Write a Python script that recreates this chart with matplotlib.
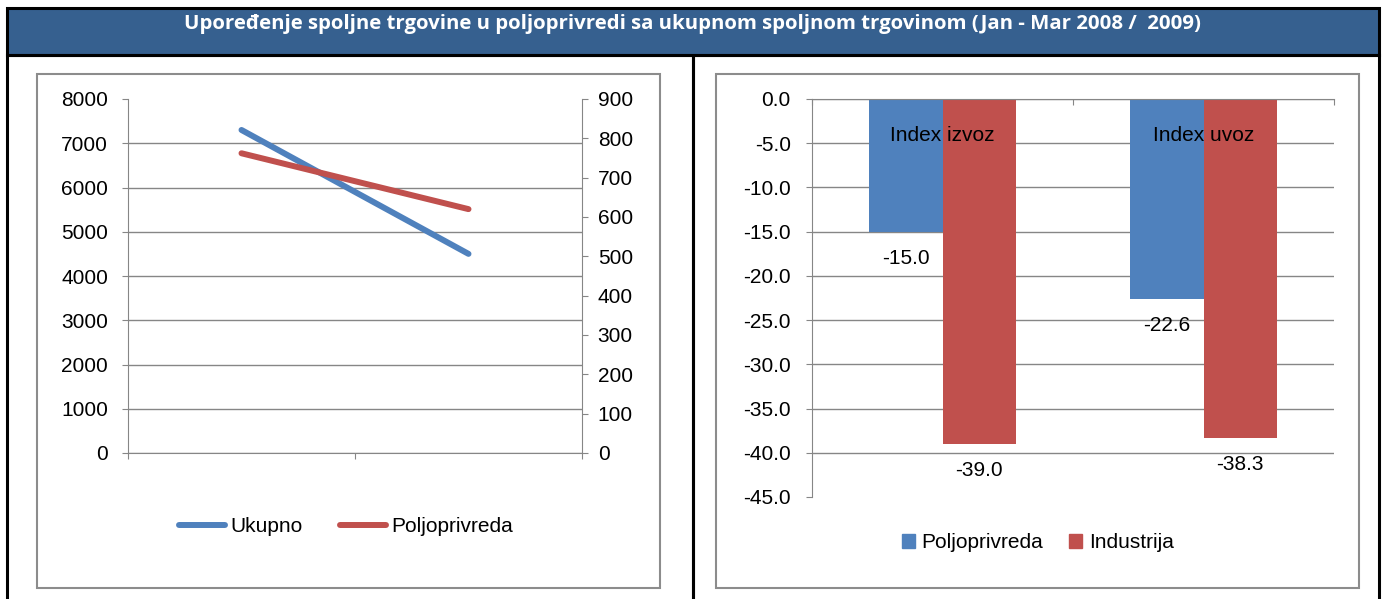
import matplotlib
matplotlib.use('Agg')
import numpy as np
import matplotlib.pyplot as plt
from matplotlib.patches import Rectangle, Patch

W, H = 1382, 599

title = "Upoređenje spoljne trgovine u poljoprivredi sa ukupnom spoljnom trgovinom (Jan - Mar 2008 /  2009)"

# left chart: total trade (left axis) vs agriculture (right axis)
periods = ["2008", "2009"]
ukupno = [7300, 4500]
poljoprivreda = [762, 620]

# right chart: indices 2009/2008
index_names = ["Index izvoz", "Index uvoz"]
index_polj = [-15.0, -22.6]
index_ind = [-39.0, -38.3]

BLUE = "#4F81BD"
RED = "#C0504D"
GRID = "#868686"
HEAD = "#36608F"

plt.rcParams['font.family'] = ['Liberation Sans', 'DejaVu Sans']
plt.rcParams['font.size'] = 15


def box(x0, y0, x1, y1):
    # pixel box with top-left origin -> figure fraction [l, b, w, h]
    return [x0 / W, 1 - y1 / H, (x1 - x0) / W, (y1 - y0) / H]


def rect(x0, y0, x1, y1, **kw):
    l, b, w, h = box(x0, y0, x1, y1)
    fig.add_artist(Rectangle((l, b), w, h, transform=fig.transFigure, **kw))


fig = plt.figure(figsize=(W / 100, H / 100), dpi=100)

# header and black table lines
rect(6.5, 8.5, 1378.5, 54.5, facecolor=HEAD, edgecolor='black', lw=2.2)
rect(6.5, 54.5, 1378.5, 610, facecolor='none', edgecolor='black', lw=2.2)
rect(692.5, 54.5, 692.5, 610, facecolor='none', edgecolor='black', lw=2.2)
t = fig.text(692.5 / W, 1 - 28.5 / H, title, color='white', fontweight='bold',
             family=['Open Sans', 'DejaVu Sans'], fontsize=13, ha='center', va='baseline')
# fit the title to the width it has in the header (~1013 px)
r = fig.canvas.get_renderer()
t.set_fontsize(13 * 1013 / t.get_window_extent(r).width)

# grey chart frames
rect(37, 74, 660, 588, facecolor='none', edgecolor='#8C8C8C', lw=1.5)
rect(716, 74, 1359, 588, facecolor='none', edgecolor='#8C8C8C', lw=1.5)

# ---- left chart
ax1 = fig.add_axes(box(128, 99, 582, 453))
ax1r = ax1.twinx()
x = np.arange(len(periods))
l1, = ax1.plot(x, ukupno, color=BLUE, lw=4.3, solid_capstyle='round', label="Ukupno")
l2, = ax1r.plot(x, poljoprivreda, color=RED, lw=4.3, solid_capstyle='round', label="Poljoprivreda")

ax1.set_xlim(-0.5, 1.5)
ax1.set_xticks([-0.5, 0.5, 1.5])
ax1.set_xticklabels([])
ax1.set_ylim(0, 8000)
ax1.set_yticks(range(0, 8001, 1000))
ax1r.set_ylim(0, 900)
ax1r.set_yticks(range(0, 901, 100))
ax1.yaxis.grid(True, color=GRID, lw=1)
ax1.get_ygridlines()[-1].set_visible(False)
ax1.set_axisbelow(True)
for a in (ax1, ax1r):
    a.set_facecolor('none')
    for s in a.spines.values():
        s.set_color(GRID)
ax1.spines['top'].set_visible(False)
ax1.spines['right'].set_visible(False)
ax1r.spines['top'].set_visible(False)
ax1r.spines['left'].set_visible(False)
ax1r.spines['bottom'].set_visible(False)
ax1.tick_params(axis='y', length=4.3, color=GRID, pad=10, labelsize=15)
ax1.tick_params(axis='x', length=4.3, color=GRID)
ax1r.tick_params(axis='y', length=4.3, color=GRID, pad=7, labelsize=15)

fig.legend(handles=[l1, l2], loc='center', bbox_to_anchor=(346 / W, 1 - 527 / H),
           ncol=2, frameon=False, borderpad=0, handlelength=2.2, handletextpad=0.25,
           columnspacing=1.8, fontsize=15)

# ---- right chart
ax2 = fig.add_axes(box(812, 99, 1334, 497))
xi = np.arange(len(index_names))
bw = 0.28
b1 = ax2.bar(xi - bw / 2, index_polj, bw, color=BLUE, label="Poljoprivreda")
b2 = ax2.bar(xi + bw / 2, index_ind, bw, color=RED, label="Industrija")

ax2.set_xlim(-0.5, 1.5)
ax2.set_ylim(-45, 0)
yt = np.arange(-45, 0.1, 5)
ax2.set_yticks(yt)
ax2.set_yticklabels(["%.1f" % v for v in yt])
ax2.yaxis.grid(True, color=GRID, lw=1)
ax2.get_ygridlines()[0].set_visible(False)
ax2.set_axisbelow(True)
ax2.set_facecolor('none')
ax2.xaxis.tick_top()
ax2.set_xticks([-0.5, 0.5, 1.5])
ax2.set_xticklabels([])
for s in ax2.spines.values():
    s.set_color(GRID)
ax2.spines['right'].set_visible(False)
ax2.spines['bottom'].set_visible(False)
ax2.tick_params(axis='x', direction='in', length=4.3, color=GRID)
ax2.tick_params(axis='y', length=4.3, color=GRID, pad=11, labelsize=15)

for i, name in enumerate(index_names):
    ax2.annotate(name, (xi[i], 0), xytext=(0, -26), textcoords='offset points',
                 ha='center', va='center', fontsize=15)

for bars, vals in ((b1, index_polj), (b2, index_ind)):
    for rb, v in zip(bars, vals):
        ax2.annotate("%.1f" % v, (rb.get_x() + rb.get_width() / 2, v), xytext=(0, -19),
                     textcoords='offset points', ha='center', va='center', fontsize=15)

fig.legend(handles=[Patch(color=BLUE, label="Poljoprivreda"), Patch(color=RED, label="Industrija")],
           loc='center', bbox_to_anchor=(1038 / W, 1 - 543 / H), ncol=2, frameon=False,
           borderpad=0, handlelength=0.62, handleheight=0.62, handletextpad=0.34,
           columnspacing=1.25, fontsize=15)

fig.savefig("out.png", dpi=100)
